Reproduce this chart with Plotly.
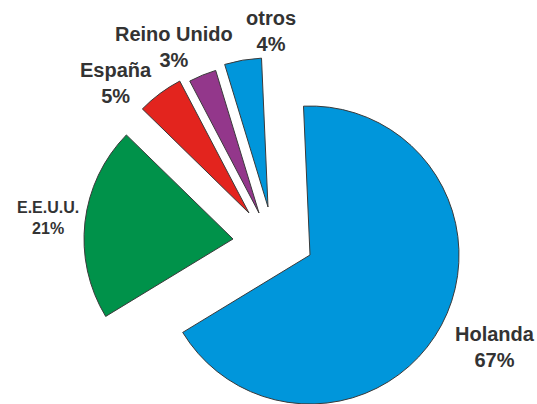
import plotly.graph_objects as go

# ---- data ----
labels = ["Holanda", "E.E.U.U.", "España", "Reino Unido", "otros"]
values = [67, 21, 5, 3, 4]

# ---- styling / layout constants ----
colors = ["#0096DB", "#00924A", "#E3241E", "#93378B", "#0096DB"]
W, H = 537, 404
R = 149
# apex (pixel) of each exploded slice
centers = [(310, 255), (233, 239), (249, 213), (259, 213), (268, 207)]
label_pos = [(495, 347), (48, 218), (116, 83), (174, 47), (271, 31)]
label_size = [20, 16, 20, 20, 20]
ROTATION = -2.5

fig = go.Figure()
for k, (cx, cy) in enumerate(centers):
    cols = [colors[i] if i == k else "rgba(0,0,0,0)" for i in range(len(values))]
    lw = [1 if i == k else 0 for i in range(len(values))]
    fig.add_trace(go.Pie(
        labels=labels,
        values=values,
        sort=False,
        direction="clockwise",
        rotation=ROTATION,
        marker=dict(colors=cols, line=dict(color="#3a3a3a", width=lw)),
        textinfo="none",
        hoverinfo="skip",
        showlegend=False,
        domain=dict(x=[(cx - R) / W, (cx + R) / W],
                    y=[(H - cy - R) / H, (H - cy + R) / H]),
    ))

for k, lab in enumerate(labels):
    x, y = label_pos[k]
    fig.add_annotation(
        x=x / W, y=1 - y / H, xref="paper", yref="paper",
        text=f"<b>{lab}<br>{values[k]}%</b>",
        showarrow=False, xanchor="center", yanchor="middle",
        font=dict(family="Liberation Sans, Arial, sans-serif",
                  size=label_size[k], color="#333333"),
    )

fig.update_layout(
    width=W, height=H,
    margin=dict(l=0, r=0, t=0, b=0),
    paper_bgcolor="white", plot_bgcolor="white",
    showlegend=False,
)
fig.write_html("out.html")
